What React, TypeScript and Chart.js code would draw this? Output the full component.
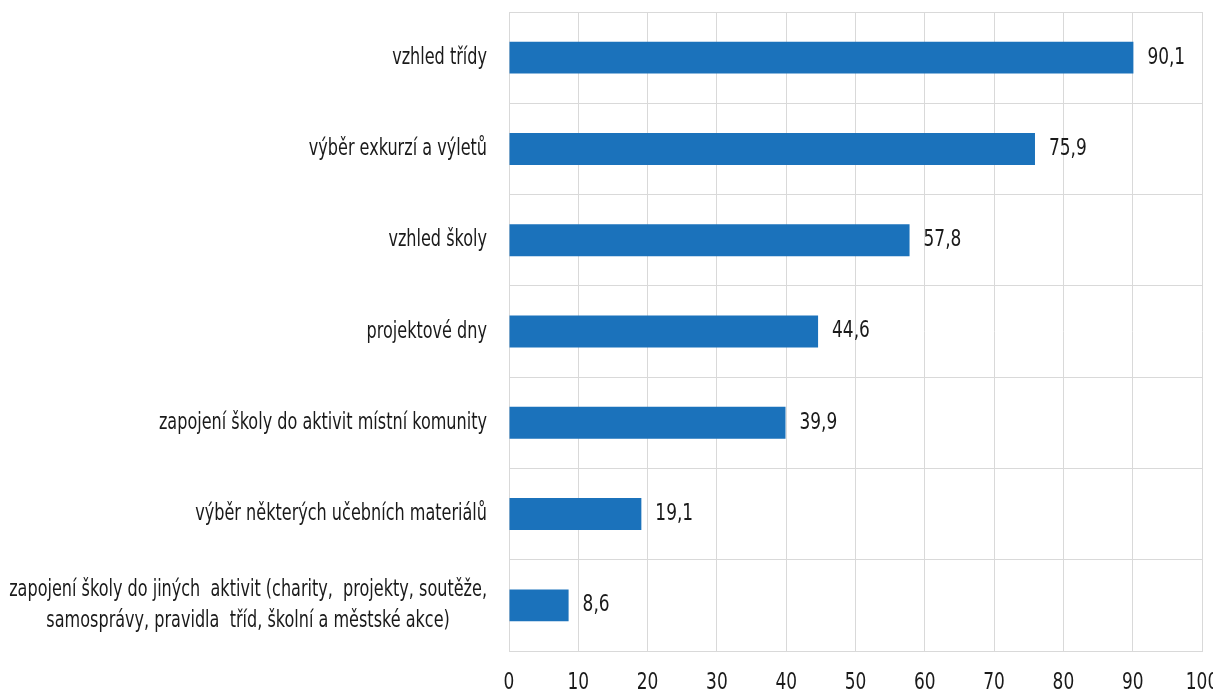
import React, { useEffect, useRef } from "react";
import { Chart, registerables } from "chart.js";

Chart.register(...registerables);

const categories: string[][] = [
  ["vzhled třídy"],
  ["výběr exkurzí a výletů"],
  ["vzhled školy"],
  ["projektové dny"],
  ["zapojení školy do aktivit místní komunity"],
  ["výběr některých učebních materiálů"],
  ["zapojení školy do jiných  aktivit (charity,  projekty, soutěže,", "samosprávy, pravidla  tříd, školní a městské akce)"],
];
const values: number[] = [90.1, 75.9, 57.8, 44.6, 39.9, 19.1, 8.6];
const xTicks: number[] = [0, 10, 20, 30, 40, 50, 60, 70, 80, 90, 100];

const FONT = "'DejaVu Sans Condensed', 'DejaVu Sans', sans-serif";
const SX_CAT = 0.76;
const SX_NUM = 0.82;

function drawText(ctx: CanvasRenderingContext2D, t: string, x: number, y: number, align: CanvasTextAlign, s: number) {
  ctx.save();
  ctx.translate(x, y);
  ctx.scale(s, 1);
  ctx.textAlign = align;
  ctx.fillText(t, 0, 0);
  ctx.restore();
}

const labelsPlugin = {
  id: "customLabels",
  afterDraw(chart: any) {
    const ctx = chart.ctx as CanvasRenderingContext2D;
    const y = chart.scales.y;
    const x = chart.scales.x;
    ctx.save();
    ctx.fillStyle = "#1a1a1a";
    ctx.textBaseline = "middle";
    // category labels
    ctx.font = `23.5px ${FONT}`;
    const right = chart.chartArea.left - 22;
    categories.forEach((lines, i) => {
      const cy = y.getPixelForValue(i);
      const lh = 31;
      const widths = lines.map((l) => ctx.measureText(l).width * SX_CAT);
      const maxW = Math.max(...widths);
      lines.forEach((l, j) => {
        const ly = cy + (j - (lines.length - 1) / 2) * lh;
        drawText(ctx, l, right - maxW / 2, ly, "center", SX_CAT);
      });
    });
    // value labels
    ctx.font = `23px ${FONT}`;
    const meta = chart.getDatasetMeta(0);
    meta.data.forEach((bar: any, i: number) => {
      const txt = values[i].toFixed(1).replace(".", ",");
      drawText(ctx, txt, x.getPixelForValue(values[i]) + 14, bar.y, "left", SX_NUM);
    });
    // x tick labels
    const ty = chart.chartArea.bottom + 32;
    xTicks.forEach((v) => {
      drawText(ctx, String(v), x.getPixelForValue(v), ty, "center", SX_NUM);
    });
    ctx.restore();
  },
};

export default function App() {
  const ref = useRef<HTMLCanvasElement>(null);
  useEffect(() => {
    if (!ref.current) return;
    const chart = new Chart(ref.current, {
      type: "bar",
      data: {
        labels: categories.map((c) => c.join(" ")),
        datasets: [
          {
            data: values,
            backgroundColor: "#1b72bb",
            barPercentage: 0.35,
            categoryPercentage: 1,
          },
        ],
      },
      options: {
        indexAxis: "y",
        animation: false,
        responsive: false,
        maintainAspectRatio: false,
        layout: { padding: { top: 12, right: 11, bottom: 44, left: 0 } },
        plugins: { legend: { display: false }, tooltip: { enabled: false } },
        scales: {
          x: {
            min: 0,
            max: 100,
            afterBuildTicks: (scale: any) => {
              scale.ticks = xTicks.map((v) => ({ value: v }));
            },
            grid: { color: "#d9d9d9", drawTicks: false },
            border: { color: "#d9d9d9" },
            ticks: { display: false },
          },
          y: {
            grid: { color: "#d9d9d9", drawTicks: false, offset: true },
            border: { color: "#d9d9d9" },
            ticks: { display: false },
            afterFit: (scale: any) => {
              scale.width = 509;
            },
          },
        },
      },
      plugins: [labelsPlugin],
    });
    return () => chart.destroy();
  }, []);
  return (
    <div style={{ position: "fixed", left: 0, top: 0, width: 1213, height: 695, background: "#fff" }}>
      <canvas ref={ref} width={1213} height={695} style={{ width: 1213, height: 695 }} />
    </div>
  );
}
